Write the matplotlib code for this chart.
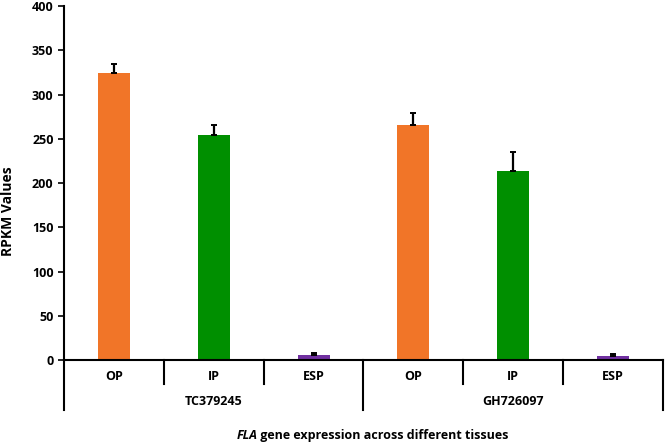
import matplotlib.pyplot as plt
from matplotlib.transforms import blended_transform_factory

tissues = ['OP', 'IP', 'ESP', 'OP', 'IP', 'ESP']
genes = ['TC379245', 'GH726097']
rpkm = [324, 254, 6, 266, 214, 4.5]
rpkm_err = [10.5, 12, 1.5, 13, 21, 2.5]
colors = ['#F17528', '#008F00', '#7030A0', '#F17528', '#008F00', '#7030A0']

plt.rcParams['font.family'] = ['Open Sans', 'DejaVu Sans']
plt.rcParams['font.weight'] = 'bold'

fig = plt.figure(figsize=(6.66, 4.45), dpi=100)
ax = fig.add_axes([0.096, 0.191, 0.8995, 0.7955])

x = list(range(len(tissues)))
ax.bar(x, rpkm, width=0.32, color=colors, zorder=2)
ax.errorbar(x, rpkm, yerr=[[0] * len(rpkm), rpkm_err], fmt='none',
            ecolor='black', elinewidth=1.6, capsize=2.5, capthick=1.4, zorder=3)

ax.set_xlim(-0.5, len(tissues) - 0.5)
ax.set_ylim(0, 400)
ax.set_yticks(range(0, 401, 50))
ax.set_xticks([])
ax.tick_params(axis='y', direction='out', length=4, width=1.2, labelsize=9)
for lab in ax.get_yticklabels():
    lab.set_fontweight('bold')

for side in ['top', 'right']:
    ax.spines[side].set_visible(False)
ax.spines['left'].set_linewidth(1.5)
ax.spines['bottom'].set_linewidth(1.5)

trans = blended_transform_factory(ax.transData, ax.transAxes)

# category labels and dividers
for i, t in enumerate(tissues):
    ax.text(i, -0.047, t, transform=trans, ha='center', va='center',
            fontsize=9, fontweight='bold', clip_on=False)
for d in [0.5, 1.5, 3.5, 4.5]:
    ax.plot([d, d], [0, -0.068], transform=trans, color='black', lw=1.5,
            clip_on=False)
for d in [-0.5, 2.5, 5.5]:
    ax.plot([d, d], [0, -0.141], transform=trans, color='black', lw=1.5,
            clip_on=False)
for g, gene in enumerate(genes):
    ax.text(g * 3 + 1, -0.118, gene, transform=trans, ha='center', va='center',
            fontsize=9, fontweight='bold', clip_on=False)

# y label sits a bit lower, centred on the axis including the group area
ax.text(-0.093, 0.42, 'RPKM Values', transform=ax.transAxes, rotation=90,
        ha='center', va='center', fontsize=10, fontweight='bold')

# x label: italic gene family name followed by regular bold text
t1 = fig.text(0.355, 0.022, 'FLA', ha='left', va='center', fontsize=9,
              fontweight='bold', fontstyle='italic')
ax.annotate(' gene expression across different tissues', xy=(1, 0.5),
            xycoords=t1, ha='left', va='center', fontsize=9,
            fontweight='bold', annotation_clip=False)

plt.savefig('out.png', dpi=100)
